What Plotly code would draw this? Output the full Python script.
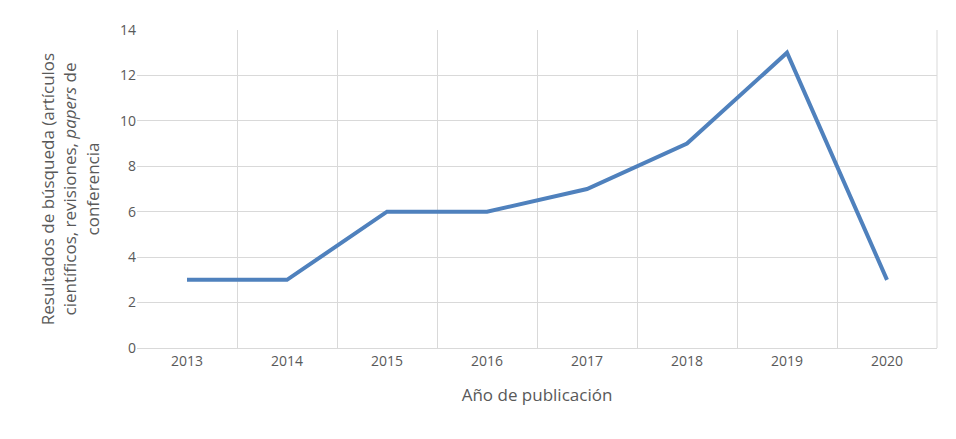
import plotly.graph_objects as go

years = [2013, 2014, 2015, 2016, 2017, 2018, 2019, 2020]
results = [3, 3, 6, 6, 7, 9, 13, 3]
y_ticks = [0, 2, 4, 6, 8, 10, 12, 14]

fig = go.Figure(go.Scatter(x=years, y=results, mode="lines",
                           line=dict(color="#4F81BD", width=4)))
grid = "#D9D9D9"
fig.update_layout(
    width=956, height=439, plot_bgcolor="white", paper_bgcolor="white",
    margin=dict(l=129, r=27, t=15, b=99), showlegend=False,
    font=dict(family="Open Sans, Liberation Sans, sans-serif", size=14, color="#595959"),
    xaxis=dict(range=[2012.5, 2020.5], tickvals=years, ticktext=[str(y) for y in years],
               showgrid=False, zeroline=False, showline=True, linecolor=grid,
               minor=dict(tickvals=[y + 0.5 for y in [2012] + years], showgrid=True,
                          gridcolor=grid, gridwidth=1),
               title=dict(text="Año de publicación", standoff=20), ticks=""),
    yaxis=dict(range=[0, 14], tickvals=y_ticks, showgrid=True, gridcolor=grid,
               zeroline=False, showline=False, ticks="", ticklen=0,
               title=dict(text="Resultados de búsqueda (artículos<br>científicos, revisiones, <i>papers</i> de<br>conferencia",
                          standoff=16)),
)
fig.add_shape(type="line", xref="paper", yref="paper", x0=1, x1=1, y0=0, y1=1,
              line=dict(color=grid, width=1))
fig.write_html("out.html")
